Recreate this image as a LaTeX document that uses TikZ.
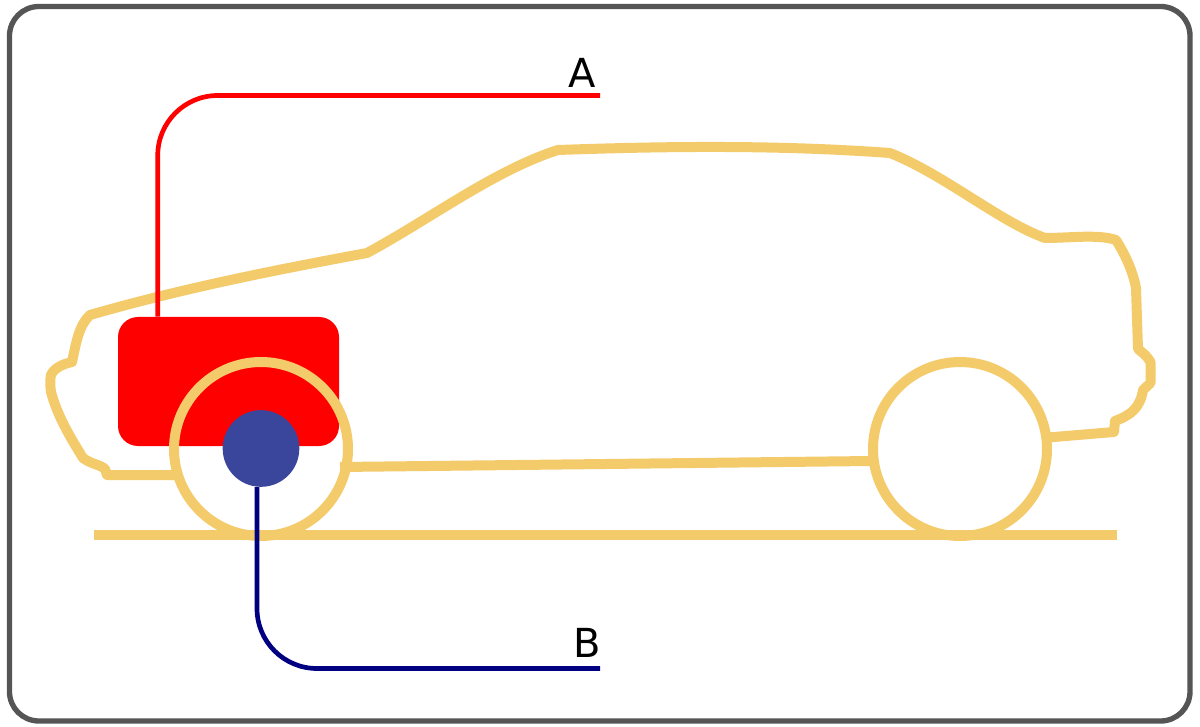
\documentclass[tikz,border=0pt]{standalone}
\usepackage{fontspec}
\setmainfont{DejaVu Sans}
\usetikzlibrary{positioning, calc}
\definecolor{bodyline}{HTML}{F3CB6B}
\definecolor{hubblue}{HTML}{3A459C}
\definecolor{framegray}{HTML}{555555}
\definecolor{wirenavy}{HTML}{000080}

\begin{document}
\begin{tikzpicture}[
    x=0.75pt, y=-0.75pt,
    outline/.style={draw=bodyline, line width=7.5pt, line join=round},
    wheel/.style={
        circle,
        draw=bodyline,
        line width=7.5pt,
        minimum size=130.5pt,
        inner sep=0pt
    },
    enginebox/.style={
        rectangle,
        fill=red,
        rounded corners=15pt,
        minimum width=165.75pt,
        minimum height=96.75pt,
        inner sep=0pt
    },
    hub/.style={
        circle,
        fill=hubblue,
        minimum size=57.5pt,
        inner sep=0pt
    },
    wire/.style={line width=3.5pt, rounded corners=45pt},
    tag/.style={font=\fontsize{30}{36}\selectfont, text=black, inner sep=0pt}
]
    \useasboundingbox (0,0) rectangle (1200,727);

    % --- frame ---
    \draw[framegray, line width=4pt, rounded corners=22pt] (9.5,6.5) rectangle (1190,721);

    % --- red box ---
    \node[enginebox] (engine) at (228.5,381.5) {};

    % --- car body ---
    \draw[outline] (176,475) -- (107,475) -- (105,469)
        .. controls (101,465) and (91,464) .. (83,458)
        .. controls (72,440) and (58,418) .. (51,392)
        .. controls (50,385) and (50,380) .. (51,375)
        .. controls (54,368) and (63,364) .. (72,362)
        .. controls (76,343) and (79,325) .. (90,315)
        .. controls (180,289) and (270,271) .. (367,253)
        .. controls (430,219) and (495,170) .. (558,150)
        .. controls (670,146) and (780,145) .. (890,153)
        .. controls (945,175) and (1000,222) .. (1045,238)
        .. controls (1070,238) and (1098,234) .. (1116,240)
        .. controls (1126,256) and (1133,272) .. (1136,288)
        -- (1138,349)
        .. controls (1143,353) and (1147,356) .. (1150.5,362)
        -- (1150.5,383) -- (1143,390)
        .. controls (1140,408) and (1131,415) .. (1115,421)
        -- (1114,432) -- (1048,437.5);
    \draw[outline] (340,467) -- (872,461);

    % --- ground ---
    \draw[outline] (94,534.5) -- (1117,534.5);

    % --- wheels ---
    \node[wheel] (front) at (261,449) {};
    \node[wheel] (rear) at (960,449) {};
    \node[hub] (axle) at (261,448.5) {};

    % --- wires ---
    \coordinate (endA) at (600,95.5);
    \draw[wire, red] ($(engine.north west)+(40,0)$) |- (endA);
    \coordinate (endB) at (600,668.5);
    \draw[wire, wirenavy] ($(axle.south)+(-4,0)$) |- (endB);

    % --- labels ---
    \node[tag] (labelA) at (582.5,73) {A};
    \node[tag] (labelB) at (587,643) {B};
\end{tikzpicture}
\end{document}
